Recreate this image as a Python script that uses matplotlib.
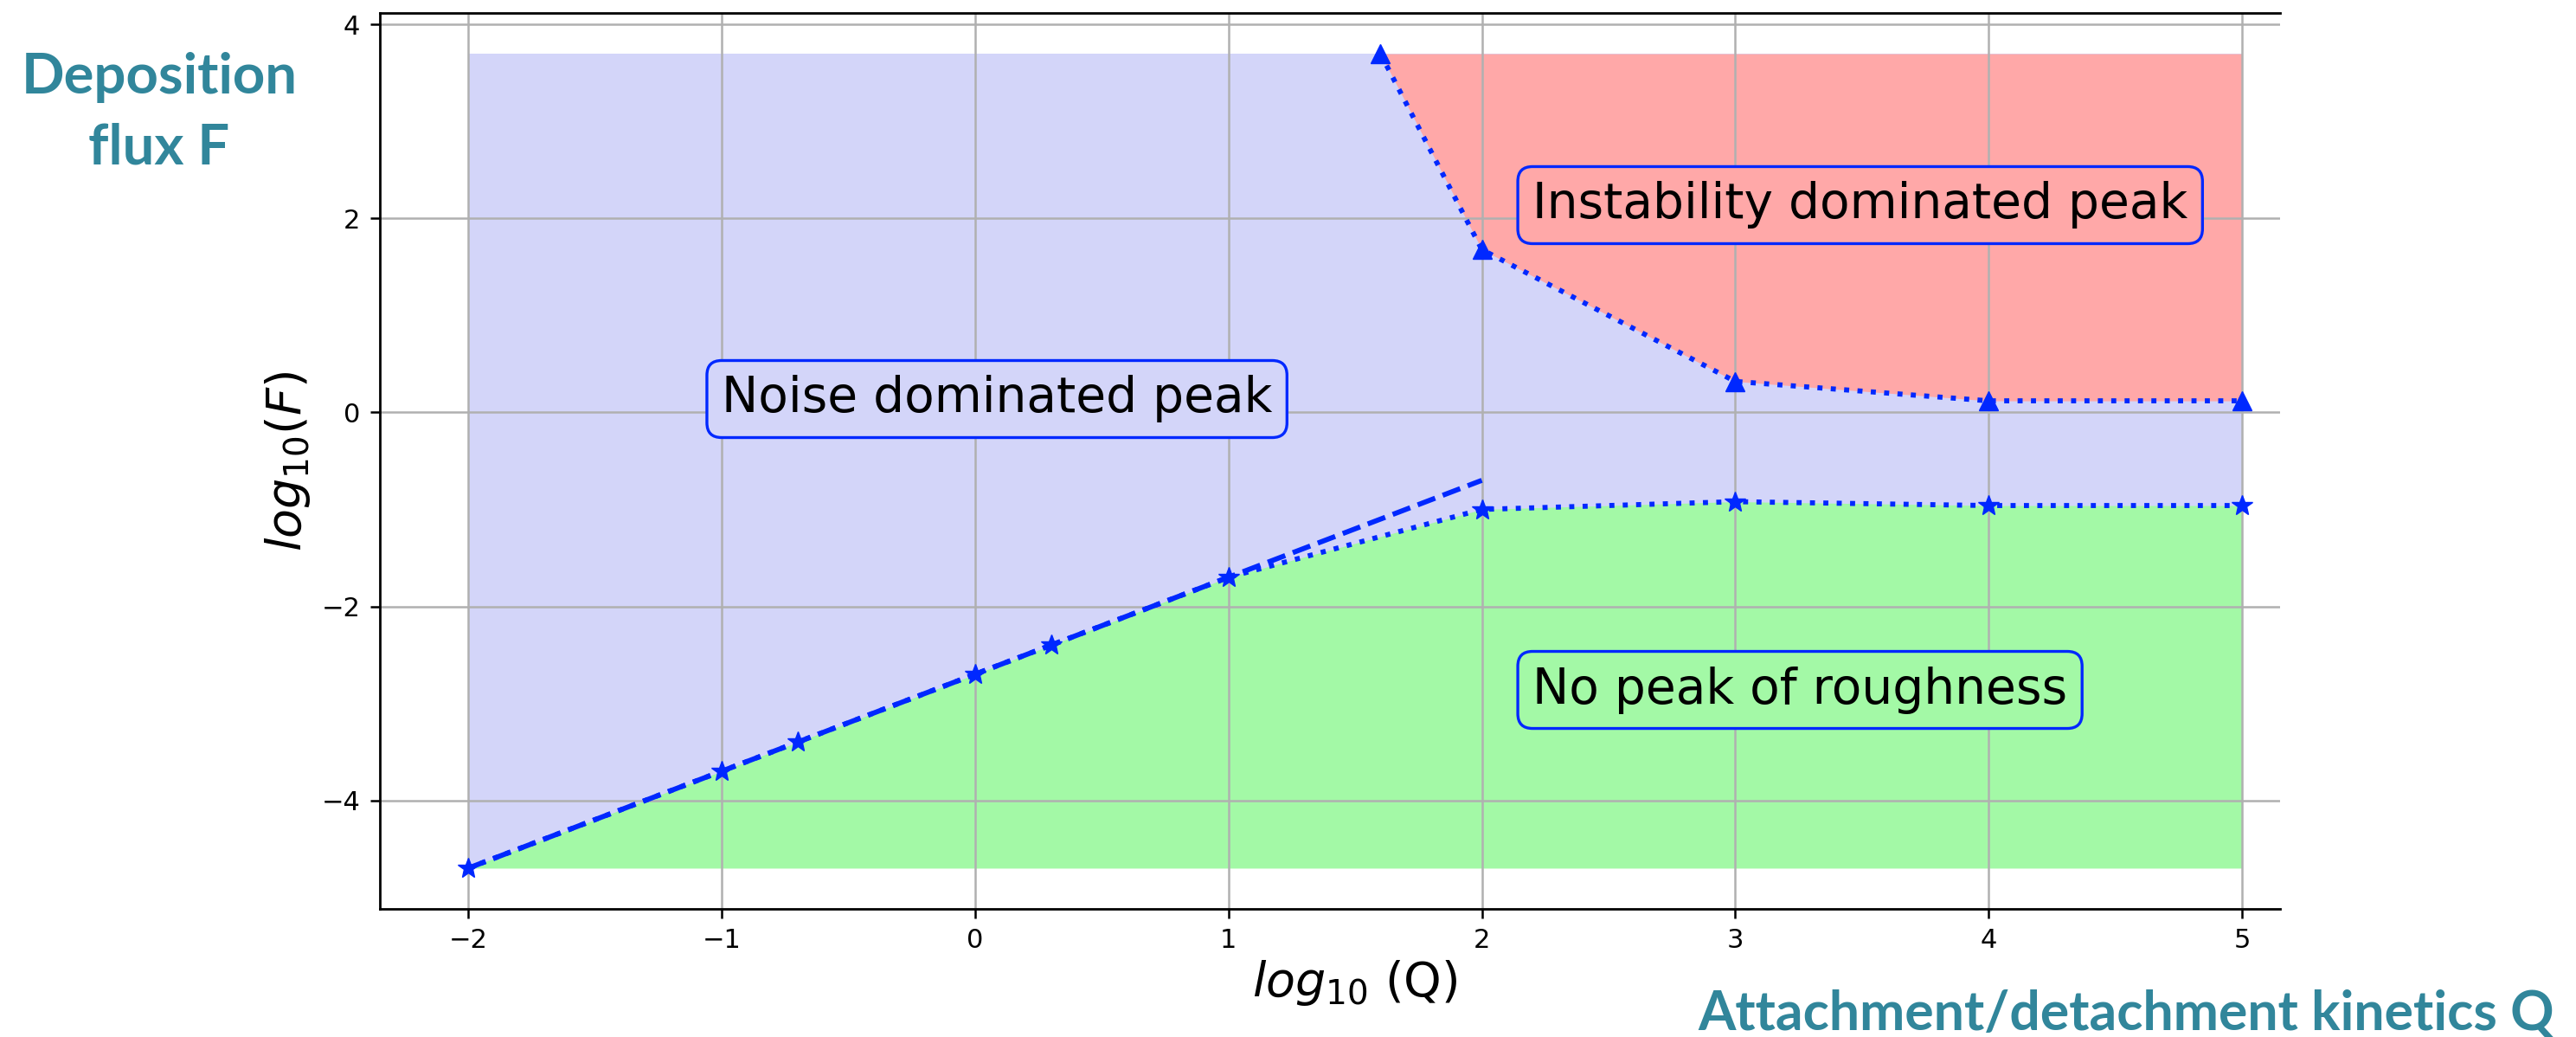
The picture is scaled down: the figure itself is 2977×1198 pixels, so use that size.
import matplotlib
matplotlib.use("Agg")
import matplotlib.pyplot as plt

# ---- data ----
lower_x = [-2, -1, -0.7, 0, 0.3, 1, 2, 3, 4, 5]
lower_y = [-4.7, -3.7, -3.4, -2.7, -2.4, -1.7, -1.0, -0.92, -0.96, -0.96]
fit_x = [-2, 2]
fit_y = [-4.7, -0.7]
upper_x = [1.6, 2, 3, 4, 5]
upper_y = [3.7, 1.68, 0.32, 0.12, 0.12]
region_x = [-2, 5]
region_ymin = -4.7
region_ymax = 3.7
xticks = [-2, -1, 0, 1, 2, 3, 4, 5]
yticks = [-4, -2, 0, 2, 4]
labels = [("Noise dominated peak", -1, 0),
          ("Instability dominated peak", 2.2, 2),
          ("No peak of roughness", 2.2, -3)]

C_BLUE_FILL = "#d3d5f9"
C_RED_FILL = "#ffa8a8"
C_GREEN_FILL = "#a3f9a6"
C_LINE = "#0028ff"
C_TEAL = "#31869b"

W, H = 2977, 1198
fig = plt.figure(figsize=(W / 100, H / 100), dpi=100)
ax_l, ax_r, ax_t, ax_b = 438.6, 2635, 15, 1050
ax = fig.add_axes([ax_l / W, (H - ax_b) / H, (ax_r - ax_l) / W, (ax_b - ax_t) / H])

ax.fill_between(region_x, region_ymin, region_ymax, color=C_BLUE_FILL, lw=0, zorder=1)
ax.fill_between(upper_x, upper_y, region_ymax, color=C_RED_FILL, lw=0, zorder=1)
ax.fill_between(lower_x, region_ymin, lower_y, color=C_GREEN_FILL, lw=0, zorder=1)

ax.plot(fit_x, fit_y, ls="--", color=C_LINE, lw=4.2, zorder=3)
ax.plot(lower_x, lower_y, ls=":", marker="*", color=C_LINE, lw=4.2, ms=18, zorder=3)
ax.plot(upper_x, upper_y, ls=":", marker="^", color=C_LINE, lw=4.2, ms=16, zorder=3)

fills = [C_BLUE_FILL, C_RED_FILL, C_GREEN_FILL]
for (txt, x, y), fc in zip(labels, fills):
    ax.text(x, y, txt, fontsize=40.8, color="black", zorder=4,
            bbox=dict(boxstyle="round,pad=0.3", facecolor=fc, edgecolor=C_LINE, lw=2.4))

ax.set_xlim(-2.35, 5.15)
ax.set_ylim(-5.12, 4.12)
ax.set_xticks(xticks)
ax.set_yticks(yticks)
ax.grid(True, color="#b0b0b0", lw=1.8, zorder=1.5)
ax.spines["right"].set_visible(False)
for s in ["left", "bottom", "top"]:
    ax.spines[s].set_linewidth(2.0)
ax.tick_params(labelsize=22, length=8, width=1.8, pad=8)

ax.set_xlabel(r"$log_{10}$ (Q)", fontsize=40)
ax.xaxis.set_label_coords((1566 - ax_l) / (ax_r - ax_l), -0.055)
ax.set_ylabel(r"$log_{10}(F)$", fontsize=40)
ax.yaxis.set_label_coords((361 - ax_l) / (ax_r - ax_l), 0.5)

tk = dict(family="Lato", fontweight="bold", fontsize=47, color=C_TEAL, ha="center", va="baseline")
fig.text(184 / W, 1 - 108 / H, "Deposition", **tk)
fig.text(184 / W, 1 - 190 / H, "flux F", **tk)
fig.text(1962 / W, 1 - 1190 / H, "Attachment/detachment kinetics Q",
         family="Lato", fontweight="bold", fontsize=45, color=C_TEAL, ha="left", va="baseline")

fig.savefig("out.png", dpi=100)
